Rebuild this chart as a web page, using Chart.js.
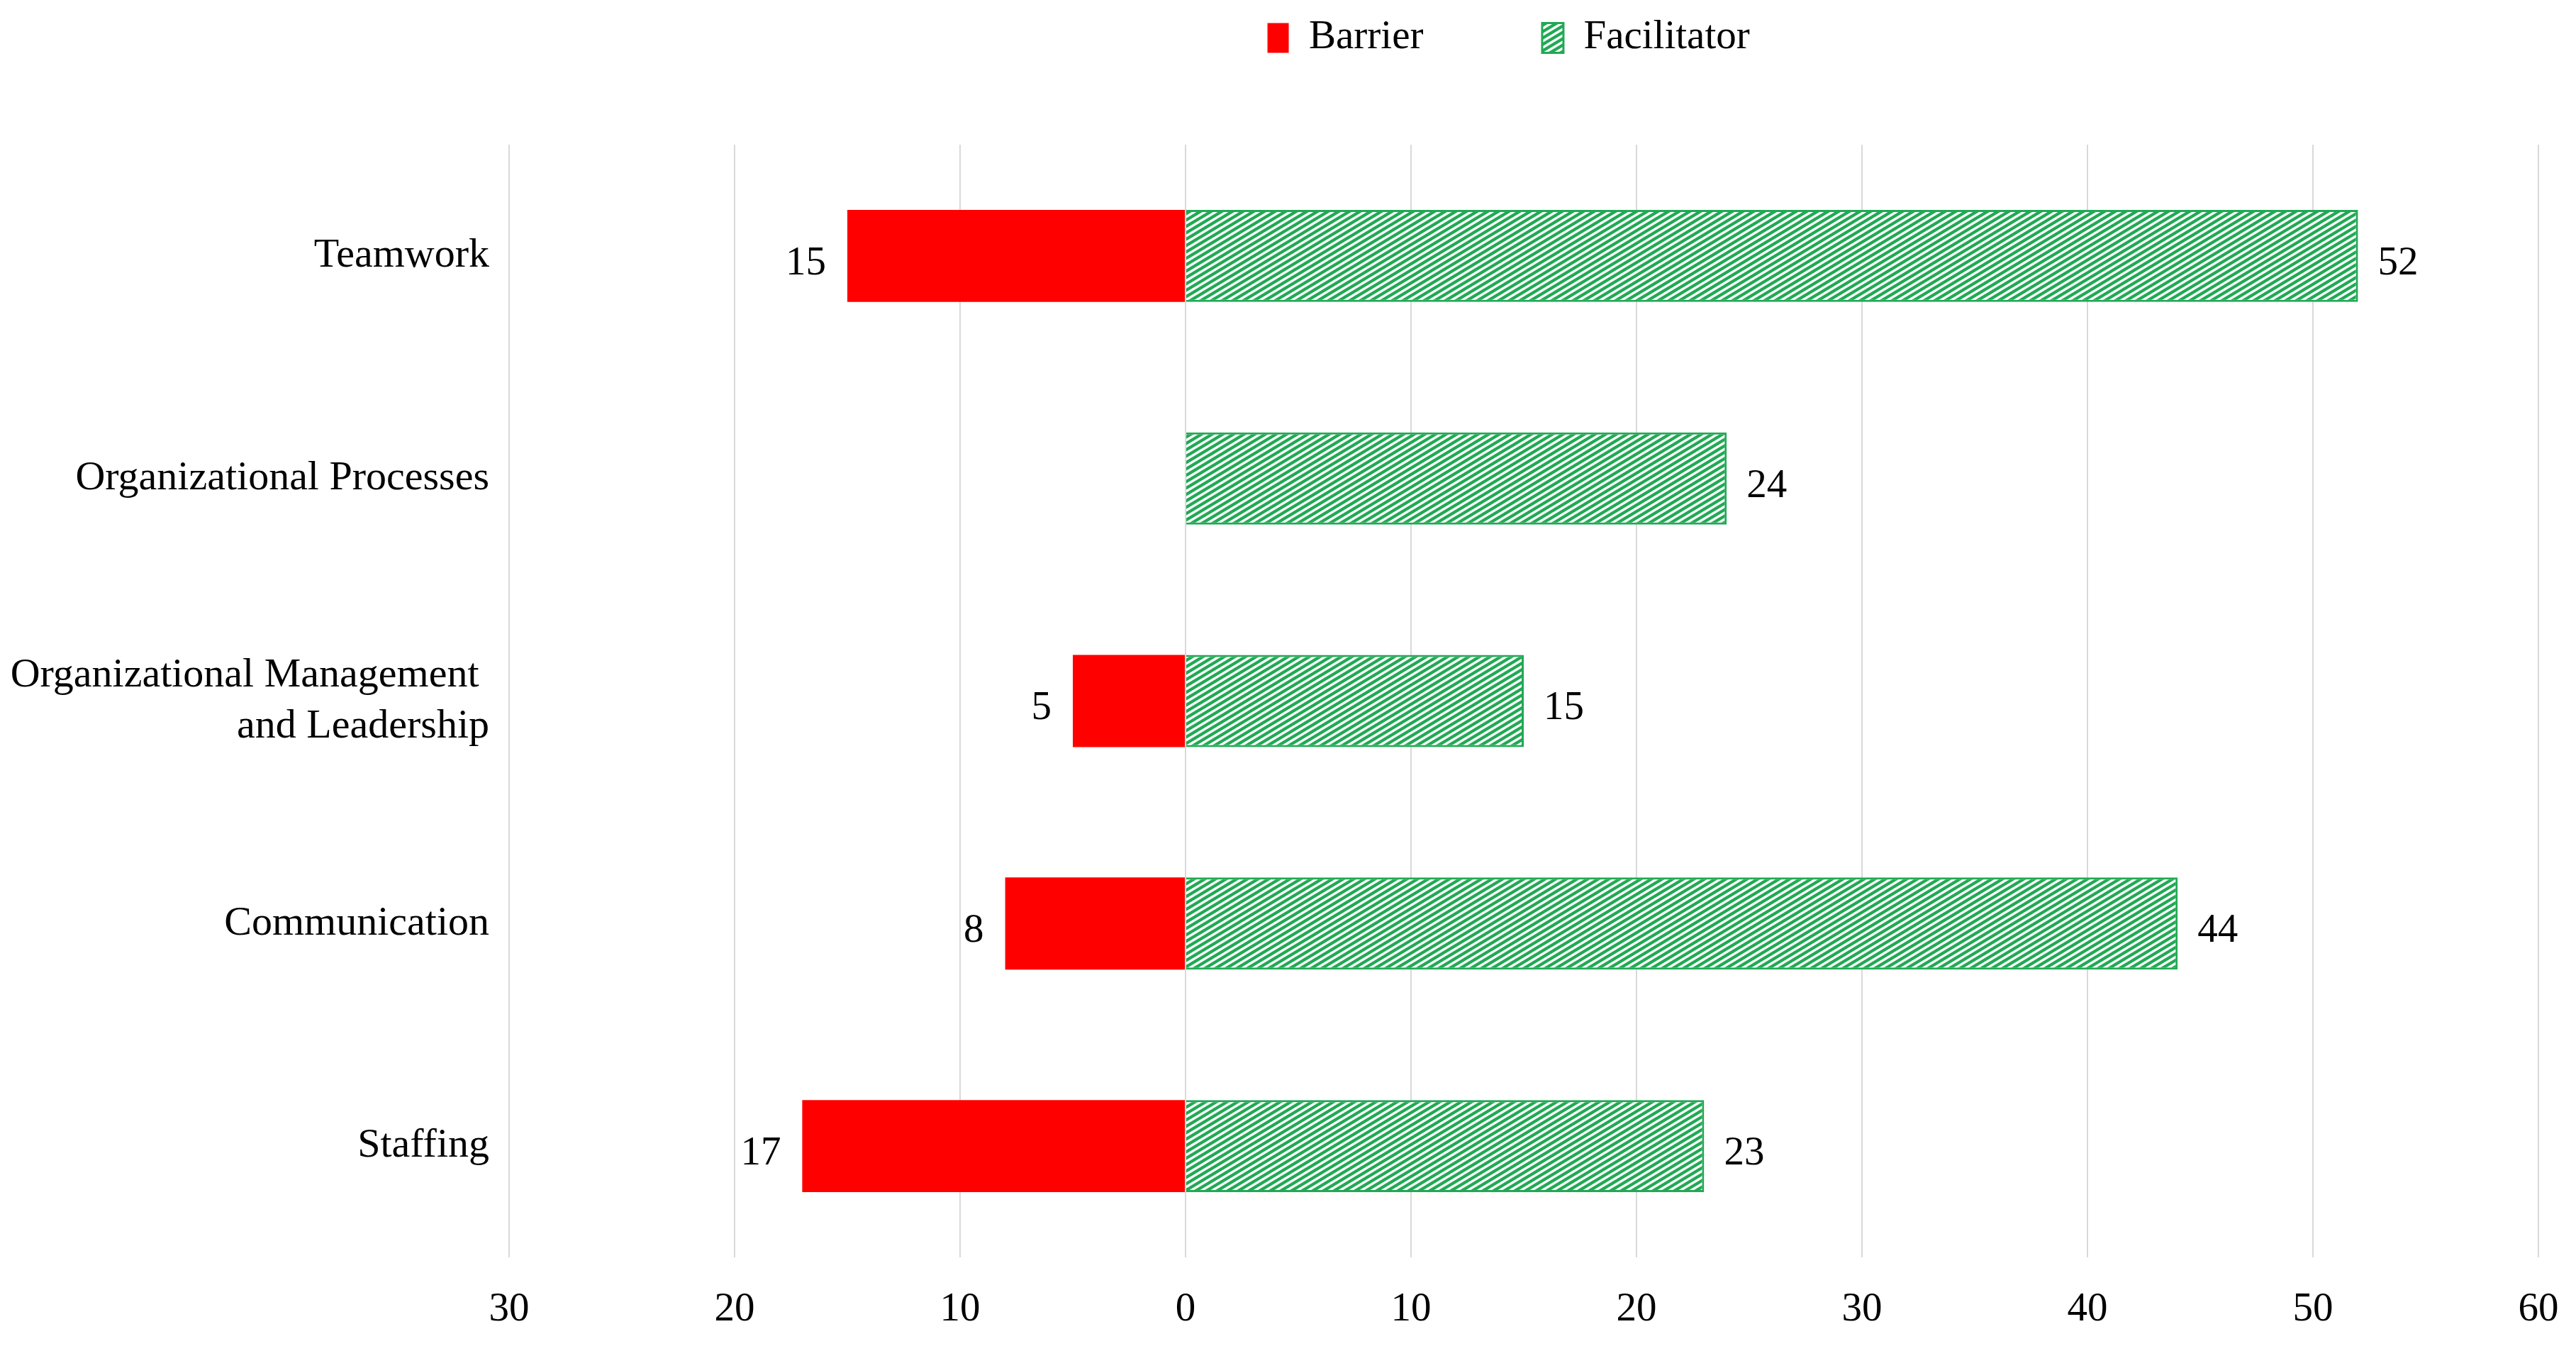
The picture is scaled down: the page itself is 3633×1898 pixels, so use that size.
<!DOCTYPE html>
<html>
<head>
<meta charset="utf-8">
<script src="https://cdn.jsdelivr.net/npm/chart.js@4.4.0/dist/chart.umd.min.js"></script>
<style>
  html, body { margin: 0; padding: 0; background: #fff; }
  canvas { display: block; }
</style>
</head>
<body>
<canvas id="chart" width="3633" height="1898"></canvas>
<script>
var categories = ['Teamwork', 'Organizational Processes', ['Organizational Management ', 'and Leadership'], 'Communication', 'Staffing'];
var barrier = [15, 0, 5, 8, 17];
var facilitator = [52, 24, 15, 44, 23];
var xTicks = [-30, -20, -10, 0, 10, 20, 30, 40, 50, 60];

var GREEN = '#21A954';
var RED = '#FF0000';
var FONT = "'Liberation Serif', 'Times New Roman', serif";

// diagonal hatch like Excel's "wide upward diagonal"
function hatch() {
    var w = 15, h = 9;
    var c = document.createElement('canvas');
    c.width = w; c.height = h;
    var g = c.getContext('2d');
    g.fillStyle = '#fff';
    g.fillRect(0, 0, w, h);
    g.strokeStyle = GREEN;
    g.lineWidth = 4.3;
    for (var k = -1; k <= 1; k++) {
        g.beginPath();
        g.moveTo(-w, 2 * h + k * h);
        g.lineTo(2 * w, -h + k * h);
        g.stroke();
    }
    return g.createPattern(c, 'repeat');
}

var valueLabels = {
    id: 'valueLabels',
    afterDatasetsDraw: function(chart) {
        var ctx = chart.ctx;
        ctx.save();
        ctx.font = '57px ' + FONT;
        ctx.fillStyle = '#000';
        ctx.textBaseline = 'middle';
        chart.data.datasets.forEach(function(ds, i) {
            chart.getDatasetMeta(i).data.forEach(function(bar, j) {
                var v = ds.data[j];
                if (!v) return;
                if (v < 0) {
                    ctx.textAlign = 'right';
                    ctx.fillText(Math.abs(v), bar.x - 30, bar.y + 11);
                } else {
                    ctx.textAlign = 'left';
                    ctx.fillText(v, bar.x + 28, bar.y + 11);
                }
            });
        });
        ctx.restore();
    }
};

// push the plot area down below the legend
var legendGap = {
    id: 'legendGap',
    beforeInit: function(chart) {
        if (!chart.legend) return;
        var fit = chart.legend.fit;
        chart.legend.fit = function() {
            fit.call(this);
            this.height += 112;
        };
    }
};

new Chart(document.getElementById('chart'), {
    type: 'bar',
    data: {
        labels: categories,
        datasets: [{
            label: 'Barrier' + '          ',
            data: barrier.map(function(v) { return -v; }),
            backgroundColor: RED,
            borderWidth: 0
        }, {
            label: 'Facilitator' + '   ',
            data: facilitator,
            backgroundColor: hatch(),
            borderColor: GREEN,
            borderWidth: 3
        }]
    },
    options: {
        indexAxis: 'y',
        responsive: false,
        animation: false,
        devicePixelRatio: 1,
        layout: { padding: { left: 0, right: 53, top: 0, bottom: 0 } },
        datasets: { bar: { categoryPercentage: 1, barPercentage: 0.414 } },
        scales: {
            x: {
                stacked: true,
                min: -30,
                max: 60,
                afterBuildTicks: function(scale) {
                    scale.ticks = xTicks.map(function(v) { return { value: v }; });
                },
                afterFit: function(scale) {
                    scale.height = 125;
                    scale.paddingRight = 30;
                },
                border: { display: false },
                grid: { color: '#D9D9D9', lineWidth: 2, drawTicks: false },
                ticks: {
                    padding: 40,
                    color: '#000',
                    font: { family: FONT, size: 57 },
                    callback: function(v) { return Math.abs(v); }
                }
            },
            y: {
                stacked: true,
                afterFit: function(scale) { scale.width = 718; },
                border: { display: false },
                grid: { display: false, drawTicks: false },
                ticks: {
                    padding: 28,
                    color: '#000',
                    font: { family: FONT, size: 58, lineHeight: 1.24 }
                }
            }
        },
        plugins: {
            legend: {
                position: 'top',
                fullSize: false,
                labels: {
                    color: '#000',
                    font: { family: FONT, size: 57 },
                    boxWidth: 30,
                    boxHeight: 42,
                    padding: 25
                }
            },
            tooltip: { enabled: false }
        }
    },
    plugins: [valueLabels, legendGap]
});
</script>
</body>
</html>
